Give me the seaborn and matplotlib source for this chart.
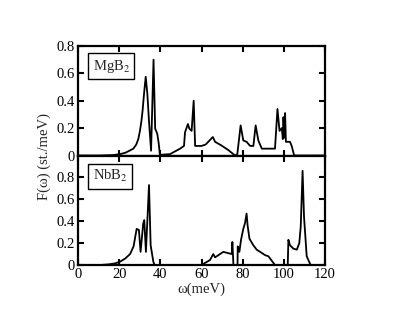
import numpy as np
import pandas as pd
import seaborn as sns
import matplotlib.pyplot as plt
from matplotlib.ticker import FuncFormatter

# phonon DOS (omega in meV, F in st./meV)
mgb2_w = [0, 10, 17, 20.4, 23, 25, 26.9, 28.3, 29.3, 30.1, 30.8, 31.4, 31.9,
          32.4, 32.9, 33.7, 34.5, 35.5, 36.7,
          37.5, 38.5, 39.2, 39.8, 44.7, 49.6, 51.5, 52, 53.4, 54.1, 55.2, 56.2, 56.9,
          60, 62, 65.5, 66.6, 69.5, 73, 76.3, 77.4, 79, 80.3, 81.9, 83.6, 85.2,
          86.3, 87.6, 89.3, 95.7, 96.9, 97.9, 99, 99.5, 99.8, 100.3, 100.6,
          101, 103, 103.8, 105, 120]
mgb2_f = [0, 0, 0.003, 0.01, 0.02, 0.035, 0.05, 0.08, 0.12, 0.18, 0.25, 0.33,
          0.42, 0.5, 0.575, 0.45, 0.25, 0.035,
          0.70, 0.196, 0.16, 0.09, 0.005, 0.01, 0.05, 0.07, 0.17, 0.23, 0.196, 0.18,
          0.40, 0.07, 0.07, 0.08, 0.135, 0.10, 0.075, 0.04, 0.0, 0.01, 0.22,
          0.11, 0.10, 0.07, 0.07, 0.22, 0.11, 0.05, 0.05, 0.34, 0.18, 0.20,
          0.12, 0.28, 0.13, 0.31, 0.10, 0.10, 0.07, 0.0, 0.0]

nbb2_w = [0, 10.7, 15, 18, 20.4, 23, 25.3, 27, 28.5, 29.6, 30.4, 31.7, 32.2,
          33, 34.5, 35.3, 36.6, 37.2, 60, 64.1, 65.7, 66.6, 68.2, 70.6, 74.7,
          75, 75.5, 77.5, 77.6, 78.4, 79.2, 80.3, 81.1, 81.9, 82.4, 83.3, 85.2,
          86.8, 88.5, 90.9, 92.5, 95.7, 101.9, 102.2, 103, 104.6, 106.3, 107.5,
          108.2, 109.1, 109.8, 111.1, 113, 120]
nbb2_f = [0, 0, 0.006, 0.015, 0.03, 0.06, 0.1, 0.17, 0.33, 0.32, 0.12, 0.38,
          0.41, 0.12, 0.73, 0.18, 0.03, 0, 0, 0.045, 0.10, 0.07, 0.09, 0.12,
          0.10, 0.21, 0.0, 0.0, 0.17, 0.12, 0.23, 0.33, 0.38, 0.47, 0.36, 0.24,
          0.18, 0.14, 0.12, 0.09, 0.08, 0.0, 0.0, 0.23, 0.18, 0.15, 0.14, 0.20,
          0.35, 0.86, 0.44, 0.08, 0.0, 0.0]

x_ticks = [0, 20, 40, 60, 80, 100, 120]
y_ticks = [0, 0.2, 0.4, 0.6, 0.8]

sns.set_style("ticks")
plt.rcParams["font.family"] = ["Liberation Serif", "DejaVu Serif"]
plt.rcParams["mathtext.fontset"] = "stix"
plt.rcParams["font.size"] = 10.5

fig, (ax1, ax2) = plt.subplots(2, 1, figsize=(4.03, 3.12), dpi=100, sharex=True,
                               gridspec_kw={"hspace": 0})
fig.subplots_adjust(left=0.1935, right=0.8065, top=0.8526, bottom=0.1506)

df1 = pd.DataFrame({"w": mgb2_w, "F": mgb2_f})
df2 = pd.DataFrame({"w": nbb2_w, "F": nbb2_f})
sns.lineplot(data=df1, x="w", y="F", ax=ax1, color="black", lw=1.3)
sns.lineplot(data=df2, x="w", y="F", ax=ax2, color="black", lw=1.3)

fmt = FuncFormatter(lambda v, p: "0" if abs(v) < 1e-9 else f"{v:.1f}")
for ax, top in [(ax1, 0.8), (ax2, 1.0)]:
    ax.set_xlim(0, 120)
    ax.set_ylim(0, top)
    ax.set_xticks(x_ticks)
    ax.set_yticks(y_ticks)
    ax.yaxis.set_major_formatter(fmt)
    ax.tick_params(direction="in", top=True, right=True, length=4, width=1.5,
                   labelsize=10.5, pad=2, colors="black")
    for s in ax.spines.values():
        s.set_linewidth(1.6)
        s.set_color("black")
    ax.set_xlabel("")
    ax.set_ylabel("")

ax1.tick_params(labelbottom=False)

ax1.text(0.135, 0.815, "MgB$_2$", transform=ax1.transAxes, ha="center", va="center",
         fontsize=10.5, bbox=dict(boxstyle="square,pad=0.3", fc="white", ec="black", lw=1))
ax2.text(0.13, 0.81, "NbB$_2$", transform=ax2.transAxes, ha="center", va="center",
         fontsize=10.5, bbox=dict(boxstyle="square,pad=0.3", fc="white", ec="black", lw=1))

ax2.set_xlabel("ω(meV)", fontsize=10.5, labelpad=1)
fig.text(0.11, 0.5, "F(ω) (st./meV)", rotation=90, ha="center", va="center", fontsize=10.5)

fig.savefig("out.png", dpi=100)
